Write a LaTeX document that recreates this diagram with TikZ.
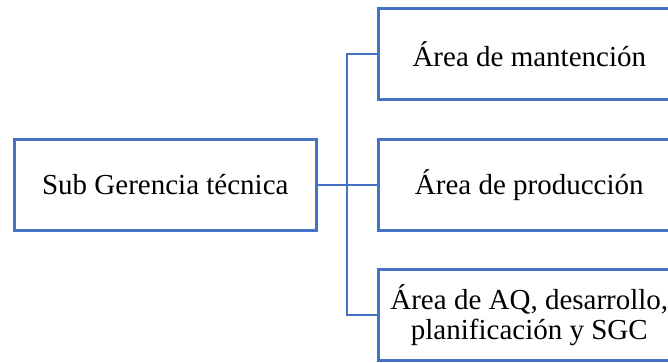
\documentclass[tikz,border=0pt]{standalone}
\usepackage{fontspec}
\setmainfont{Liberation Serif}
\begin{document}
\begin{tikzpicture}[x=1pt,y=1pt,
  box/.style={draw=blueline,line width=2.6pt,minimum width=302pt,minimum height=91pt,inner sep=0pt,align=center,font=\fontsize{29}{30}\selectfont,anchor=west},
  conn/.style={draw=blueline,line width=2.6pt}]
\definecolor{blueline}{RGB}{68,114,196}
\useasboundingbox (0,0) rectangle (668,362);
\clip (0,0) rectangle (668,362);
\node[box] (sub) at (13,177) {Sub Gerencia técnica};
\node[box] (man) at (377,308) {Área de mantención};
\node[box] (pro) at (377,177) {Área de producción};
\node[box] (aq) at (377,47) {Área de AQ, desarrollo,\\planificación y SGC};
\coordinate (j) at (347,177);
\draw[conn] (sub.east) -- (pro.west);
\draw[conn] (man.west) -| (j) |- (aq.west);
\end{tikzpicture}
\end{document}
